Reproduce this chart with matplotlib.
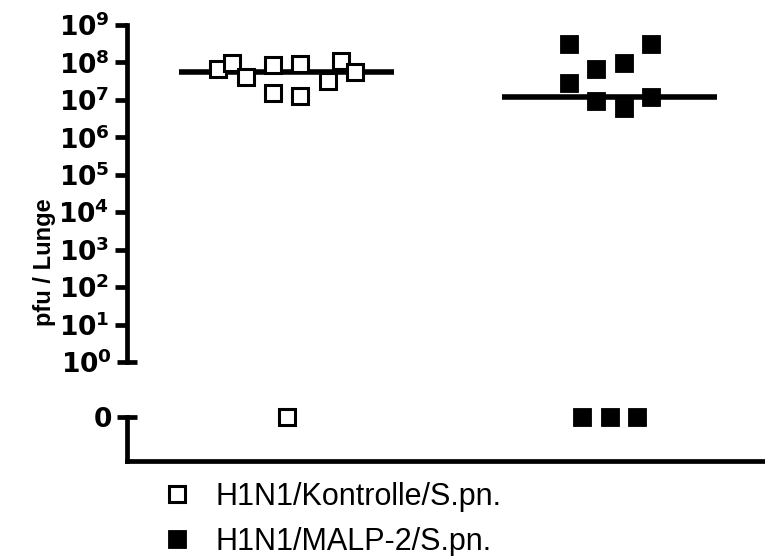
import numpy as np
import matplotlib
matplotlib.use("Agg")
import matplotlib.pyplot as plt
from matplotlib.ticker import FixedLocator, FuncFormatter

# Gruppen
groups = ['H1N1/Kontrolle/S.pn.', 'H1N1/MALP-2/S.pn.']
group_pos = [1, 2]

# pfu / Lunge (0 = unter Nachweisgrenze)
kontrolle = [6.8e7, 9.7e7, 4.1e7, 8.8e7, 1.53e7, 9.1e7, 1.27e7, 3.2e7, 1.09e8, 5.4e7, 0]
kontrolle_jitter = [-5, -4, -3, -1, -1, 1, 1, 3, 4, 5, 0]
malp2 = [3.1e8, 2.74e7, 6.5e7, 9.6e6, 9.4e7, 6.1e6, 3.1e8, 1.16e7, 0, 0, 0]
malp2_jitter = [-3, -3, -1, -1, 1, 1, 3, 3, -2, 0, 2]

values = [kontrolle, malp2]
jitters = [kontrolle_jitter, malp2_jitter]

plt.rcParams['mathtext.fontset'] = 'dejavusans'
W, H = 765, 556
fig = plt.figure(figsize=(W / 100, H / 100), dpi=100)

lw = 3.4
step = 0.0424      # Abstand der Punkte nebeneinander
half = 0.333       # halbe Breite der Medianlinie
tsize = 19

left = 126.7 / W
ax = fig.add_axes([left, 1 - 362 / H, 1 - left, 337 / H])
ax0 = fig.add_axes([left, 1 - 461 / H, 1 - left, 56 / H], sharex=ax)

styles = [dict(marker='s', ms=12.2, mfc='white', mec='black', mew=2.2),
          dict(marker='s', ms=13.2, mfc='black', mec='black', mew=0.6)]

handles = []
for vals, jit, pos, st in zip(values, jitters, group_pos, styles):
    vals = np.array(vals, dtype=float)
    x = pos + step * np.array(jit)
    pos_mask = vals > 0
    h, = ax.plot(x[pos_mask], vals[pos_mask], ls='none', clip_on=False, zorder=3, **st)
    ax0.plot(x[~pos_mask], vals[~pos_mask], ls='none', clip_on=False, zorder=3, **st)
    handles.append(h)
    med = np.median(vals)
    ax.hlines(med, pos - half, pos + half, colors='black', lw=4, zorder=2)

ax.set_xlim(0.505, 2.48)
ax.set_yscale('log')
ax.set_ylim(1, 1e9)
ax.yaxis.set_major_locator(FixedLocator([10.0 ** k for k in range(1, 10)]))
ax.yaxis.set_minor_locator(FixedLocator([1.0]))
fmt = FuncFormatter(lambda v, p: r'$\mathbf{10^{%d}}$' % round(np.log10(v)))
ax.yaxis.set_major_formatter(fmt)
ax.yaxis.set_minor_formatter(fmt)
ax.tick_params(axis='y', which='major', direction='out', length=8.4, width=lw, pad=4, labelsize=tsize)
ax.tick_params(axis='y', which='minor', direction='inout', length=13.7, width=lw, pad=4, labelsize=tsize)
ax.tick_params(axis='x', which='both', bottom=False, labelbottom=False)
for s in ['top', 'right', 'bottom']:
    ax.spines[s].set_visible(False)
ax.spines['left'].set_linewidth(lw)
ax.patch.set_alpha(0)

ax0.set_ylim(-1, 0.2727)
ax0.set_yticks([0])
ax0.set_yticklabels([r'$\mathbf{0}$'])
ax0.tick_params(axis='y', direction='inout', length=13.7, width=lw, pad=4, labelsize=tsize)
ax0.tick_params(axis='x', bottom=False, labelbottom=False)
for s in ['top', 'right']:
    ax0.spines[s].set_visible(False)
ax0.spines['left'].set_bounds(-1, 0)
ax0.spines['left'].set_linewidth(lw)
ax0.spines['bottom'].set_linewidth(lw)
ax0.patch.set_alpha(0)

fig.text(44 / W, 1 - 262 / H, 'pfu / Lunge', rotation=90, ha='center', va='center',
         fontsize=17, fontweight='bold', family=['Liberation Sans', 'DejaVu Sans'])

fig.legend(handles, groups, loc='upper left', bbox_to_anchor=(161.7 / W, 1 - 482 / H),
           frameon=False, borderaxespad=0, borderpad=0, handlelength=1.0,
           handletextpad=0.76, labelspacing=0.49,
           prop=dict(family=['Liberation Sans Narrow', 'Liberation Sans'], size=22))

fig.savefig('out.png', dpi=100)
